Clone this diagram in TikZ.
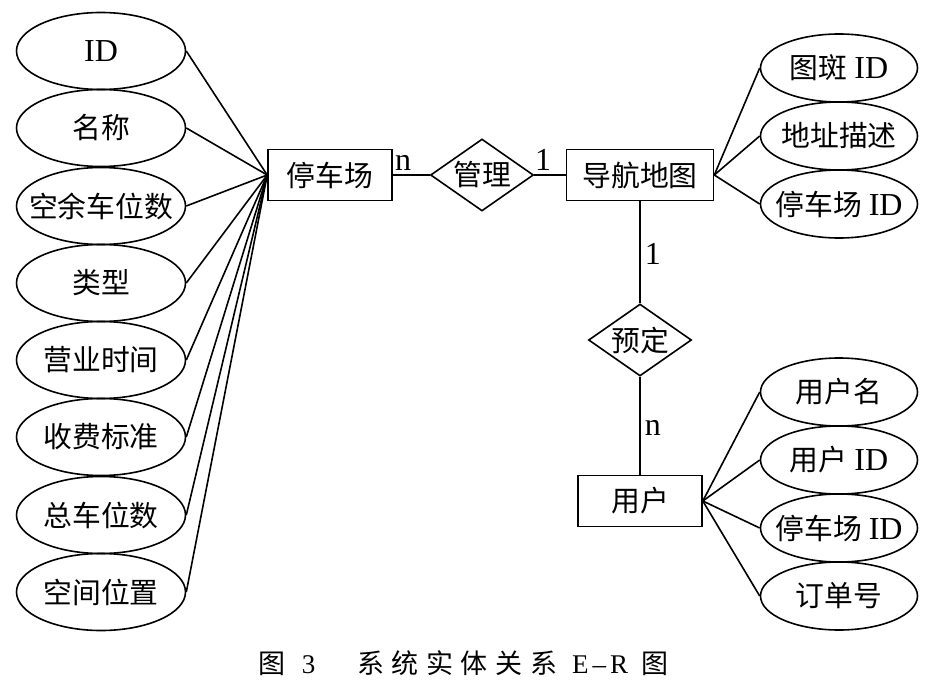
\documentclass[tikz,border=0pt]{standalone}
\usepackage{fontspec}
\setmainfont{Liberation Serif}
\newfontfamily\cjk[Scale=0.9]{Noto Sans CJK SC}
\newfontfamily\cjkcap[LetterSpace=28]{Noto Sans CJK SC}
\usetikzlibrary{shapes.geometric}

\tikzset{
    entity/.style={draw, rectangle, minimum height=51pt, inner sep=0pt,
        font=\fontsize{32}{36}\selectfont\cjk},
    attr/.style={draw, ellipse, inner xsep=-15pt, inner ysep=0pt,
        font=\fontsize{32}{36}\selectfont\cjk},
    lattr/.style={attr, minimum width=169pt, minimum height=77pt},
    rattr/.style={attr, minimum width=157pt, minimum height=68pt},
    rel/.style={draw, diamond, aspect=1.4, inner sep=0pt, minimum width=103pt,
        minimum height=72pt, font=\fontsize{32}{36}\selectfont\cjk},
    card/.style={inner sep=4pt, font=\fontsize{32}{36}\selectfont},
}

\begin{document}
\begin{tikzpicture}[x=1pt, y=-1pt, line width=1.6pt]
        \useasboundingbox (0,0) rectangle (936,690);
        \node[entity, minimum width=124pt] (lot)  at (330,175) {停车场};
        \node[rel]                         (mg)   at (482,175) {管理};
        \node[entity, minimum width=147pt] (map)  at (640,175) {导航地图};
        \node[rel]                         (bk)   at (640,340) {预定};
        \node[entity, minimum width=124pt] (user) at (640,501) {用户};

        \node[lattr] (a1) at (101,51)  {\rmfamily ID};
        \node[lattr] (a2) at (101,128) {名称};
        \node[lattr] (a3) at (101,206) {空余车位数};
        \node[lattr] (a4) at (101,283) {类型};
        \node[lattr] (a5) at (101,360) {营业时间};
        \node[lattr] (a6) at (101,437) {收费标准};
        \node[lattr] (a7) at (101,515) {总车位数};
        \node[lattr] (a8) at (101,592) {空间位置};

        \node[rattr] (b1) at (839,68)  {图斑\hspace{7pt}\rmfamily ID};
        \node[rattr] (b2) at (839,136) {地址描述};
        \node[rattr] (b3) at (839,204) {停车场\hspace{7pt}\rmfamily ID};

        \node[rattr] (u1) at (839,392) {用户名};
        \node[rattr] (u2) at (839,460) {用户\hspace{7pt}\rmfamily ID};
        \node[rattr] (u3) at (839,528) {停车场\hspace{7pt}\rmfamily ID};
        \node[rattr] (u4) at (839,596) {订单号};

        \node[anchor=west, inner sep=0pt, font=\fontsize{27}{30}\selectfont] (cap) at (258,663)
            {{\cjkcap 图}\hspace{16pt}3\hspace{42pt}{\cjkcap 系统实体关系}\hspace{15pt}E\kern4pt--\kern4pt R\hspace{13pt}{\cjkcap 图}};

        \draw (a1.east) -- (lot.west);
        \draw (a2.east) -- (lot.west);
        \draw (a3.east) -- (lot.west);
        \draw (a4.east) -- (lot.west);
        \draw (a5.east) -- (lot.west);
        \draw (a6.east) -- (lot.west);
        \draw (a7.east) -- (lot.west);
        \draw (a8.east) -- (lot.west);

        \draw (map.east) -- (b1.west);
        \draw (map.east) -- (b2.west);
        \draw (map.east) -- (b3.west);

        \draw (user.east) -- (u1.west);
        \draw (user.east) -- (u2.west);
        \draw (user.east) -- (u3.west);
        \draw (user.east) -- (u4.west);

        \draw (lot) -- node[card, above, pos=0.28] (c1) {n} (mg);
        \draw (mg)  -- node[card, above, pos=0.28] (c2) {1} (map);
        \draw (map) -- node[card, right, pos=0.52] (c3) {1} (bk);
        \draw (bk)  -- node[card, right, pos=0.52] (c4) {n} (user);
    \end{tikzpicture}
\end{document}
